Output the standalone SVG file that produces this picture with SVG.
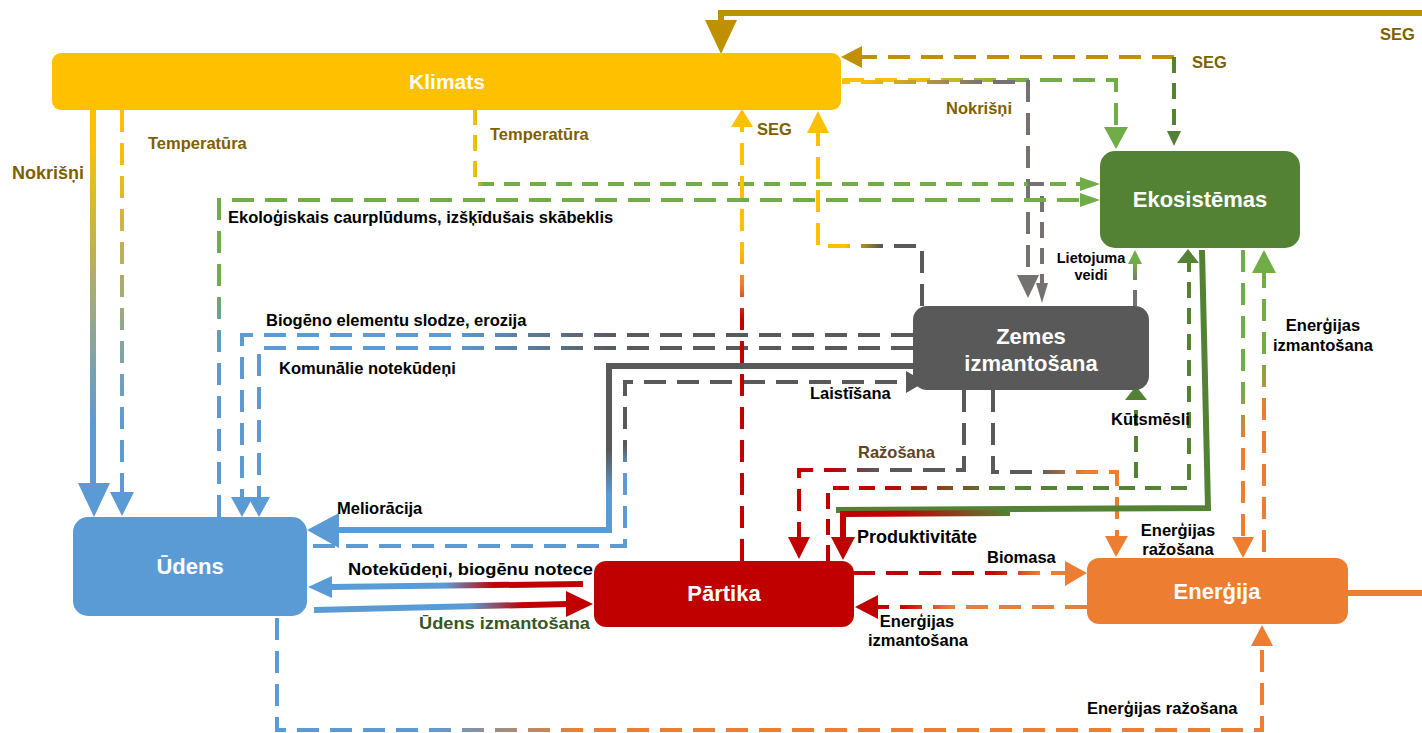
<svg xmlns="http://www.w3.org/2000/svg" width="1422" height="733" viewBox="0 0 1422 733">
<style>
.d{fill:none;stroke-width:4;stroke-dasharray:22 11}
.ds{fill:none;stroke-width:4;stroke-dasharray:16 10}
.s{fill:none;stroke-width:6}
.lab{font-family:"Liberation Sans",Arial,sans-serif;font-weight:bold;font-size:16.5px;fill:#000}
.ly{fill:#7F6000}
.mid{text-anchor:middle}
.nt{font-family:"Liberation Sans",Arial,sans-serif;font-weight:bold;font-size:22px;fill:#fff;text-anchor:middle}
</style>
<defs>
<linearGradient id="g1" gradientUnits="userSpaceOnUse" x1="0" y1="140" x2="0" y2="420"><stop offset="0" stop-color="#FFC000"/><stop offset="1" stop-color="#5B9BD5"/></linearGradient>
<linearGradient id="g3" gradientUnits="userSpaceOnUse" x1="474" y1="0" x2="484" y2="0"><stop offset="0" stop-color="#FFC000"/><stop offset="1" stop-color="#70AD47"/></linearGradient>
<linearGradient id="g4" gradientUnits="userSpaceOnUse" x1="0" y1="350" x2="0" y2="280"><stop offset="0" stop-color="#5B9BD5"/><stop offset="1" stop-color="#70AD47"/></linearGradient>
<linearGradient id="g5" gradientUnits="userSpaceOnUse" x1="450" y1="0" x2="620" y2="0"><stop offset="0" stop-color="#5B9BD5"/><stop offset="1" stop-color="#595959"/></linearGradient>
<linearGradient id="g6" gradientUnits="userSpaceOnUse" x1="0" y1="450" x2="0" y2="495"><stop offset="0" stop-color="#595959"/><stop offset="1" stop-color="#5B9BD5"/></linearGradient>
<linearGradient id="g7" gradientUnits="userSpaceOnUse" x1="0" y1="445" x2="0" y2="468"><stop offset="0" stop-color="#595959"/><stop offset="1" stop-color="#5B9BD5"/></linearGradient>
<linearGradient id="g8" gradientUnits="userSpaceOnUse" x1="445" y1="0" x2="495" y2="0"><stop offset="0" stop-color="#5B9BD5"/><stop offset="1" stop-color="#C00000"/></linearGradient>
<linearGradient id="g9" gradientUnits="userSpaceOnUse" x1="470" y1="0" x2="522" y2="0"><stop offset="0" stop-color="#5B9BD5"/><stop offset="1" stop-color="#C00000"/></linearGradient>
<linearGradient id="g10" gradientUnits="userSpaceOnUse" x1="0" y1="320" x2="0" y2="250"><stop offset="0" stop-color="#C00000"/><stop offset="0.5" stop-color="#ED7D31"/><stop offset="1" stop-color="#FFC000"/></linearGradient>
<linearGradient id="g11" gradientUnits="userSpaceOnUse" x1="880" y1="0" x2="845" y2="0"><stop offset="0" stop-color="#595959"/><stop offset="1" stop-color="#FFC000"/></linearGradient>
<linearGradient id="g12" gradientUnits="userSpaceOnUse" x1="900" y1="0" x2="1030" y2="0"><stop offset="0" stop-color="#FFC000"/><stop offset="1" stop-color="#70AD47"/></linearGradient>
<linearGradient id="g13" gradientUnits="userSpaceOnUse" x1="860" y1="0" x2="985" y2="0"><stop offset="0" stop-color="#FFC000"/><stop offset="1" stop-color="#767171"/></linearGradient>
<linearGradient id="g14" gradientUnits="userSpaceOnUse" x1="0" y1="285" x2="0" y2="265"><stop offset="0" stop-color="#767171"/><stop offset="1" stop-color="#70AD47"/></linearGradient>
<linearGradient id="g15" gradientUnits="userSpaceOnUse" x1="830" y1="0" x2="875" y2="0"><stop offset="0" stop-color="#C00000"/><stop offset="1" stop-color="#595959"/></linearGradient>
<linearGradient id="g16" gradientUnits="userSpaceOnUse" x1="1040" y1="0" x2="1085" y2="0"><stop offset="0" stop-color="#595959"/><stop offset="1" stop-color="#ED7D31"/></linearGradient>
<linearGradient id="g17" gradientUnits="userSpaceOnUse" x1="880" y1="0" x2="1000" y2="0"><stop offset="0" stop-color="#C00000"/><stop offset="1" stop-color="#548235"/></linearGradient>
<linearGradient id="g18" gradientUnits="userSpaceOnUse" x1="900" y1="0" x2="1010" y2="0"><stop offset="0" stop-color="#C00000"/><stop offset="1" stop-color="#548235"/></linearGradient>
<linearGradient id="g19" gradientUnits="userSpaceOnUse" x1="0" y1="390" x2="0" y2="440"><stop offset="0" stop-color="#70AD47"/><stop offset="1" stop-color="#ED7D31"/></linearGradient>
<linearGradient id="g20" gradientUnits="userSpaceOnUse" x1="0" y1="410" x2="0" y2="360"><stop offset="0" stop-color="#ED7D31"/><stop offset="1" stop-color="#70AD47"/></linearGradient>
<linearGradient id="g21" gradientUnits="userSpaceOnUse" x1="990" y1="0" x2="1040" y2="0"><stop offset="0" stop-color="#C00000"/><stop offset="1" stop-color="#ED7D31"/></linearGradient>
<linearGradient id="g22" gradientUnits="userSpaceOnUse" x1="900" y1="0" x2="950" y2="0"><stop offset="0" stop-color="#C00000"/><stop offset="1" stop-color="#ED7D31"/></linearGradient>
<linearGradient id="g23" gradientUnits="userSpaceOnUse" x1="430" y1="0" x2="580" y2="0"><stop offset="0" stop-color="#5B9BD5"/><stop offset="1" stop-color="#ED7D31"/></linearGradient>
</defs>
<rect width="1422" height="733" fill="#fff"/>
<g id="connectors">
<path class="s" stroke="#BF9000" d="M1422,13 H721 V24"/><polygon fill="#BF9000" points="705,20 737,20 721,54"/>
<path class="d" stroke="#BF9000" d="M1174,57 H862"/><polygon fill="#BF9000" points="862,46 862,68 841,57"/>
<path class="ds" stroke="#548235" stroke-width="3" d="M1174,57 V131"/><polygon fill="#548235" points="1167,131 1181,131 1174,146"/>
<path class="d" stroke="url(#g12)" d="M842,80 H1116 V127"/><polygon fill="#70AD47" points="1104,127 1128,127 1116,149"/>
<path class="d" stroke="url(#g13)" stroke-dashoffset="14" d="M842,82 H1028 V276"/><polygon fill="#767171" points="1017,275 1039,275 1028,298"/>
<path class="ds" stroke="url(#g3)" d="M475,109 V184 H1080"/><polygon fill="#70AD47" points="1080,177 1080,191 1100,184"/>
<path class="ds" stroke="#767171" d="M1028,184 H1042 V284"/><polygon fill="#767171" points="1036,283 1048,283 1042,303"/>
<path class="d" stroke="url(#g4)" d="M219,517 V200 H1080"/><polygon fill="#70AD47" points="1080,193 1080,207 1100,200"/>
<path class="d" stroke="url(#g5)" d="M913,335 H242 V497"/><polygon fill="#5B9BD5" points="231,497 253,497 242,517"/>
<path class="d" stroke="url(#g5)" d="M913,348 H259 V497"/><polygon fill="#5B9BD5" points="248,497 270,497 259,517"/>
<path class="s" stroke="url(#g6)" d="M913,366 H609 V530 H338"/><polygon fill="#5B9BD5" points="307,530 339,513 339,548"/>
<path class="d" stroke="url(#g7)" d="M313,546 H625 V382 H906"/><polygon fill="#595959" points="906,371 906,393 925,382"/>
<path class="s" stroke-width="5" stroke="url(#g8)" d="M583,584 L330,587"/><polygon fill="#5B9BD5" points="308,587 332,576 332,598"/>
<path class="s" stroke="url(#g9)" d="M314,610 L568,604"/><polygon fill="#C00000" points="593,604 566,591 566,617"/>
<path class="d" stroke="url(#g10)" d="M742,561 V127"/><polygon fill="#FFC000" points="731,127 753,127 742,109"/>
<path class="d" stroke="url(#g11)" d="M922,306 V246 H818 V133"/><polygon fill="#FFC000" points="807,133 829,133 818,111"/>
<path class="ds" stroke="url(#g14)" d="M1135,306 V263"/><polygon fill="#70AD47" points="1128,264 1142,264 1135,250"/>
<path class="d" stroke="url(#g15)" d="M964,390 V470 H799 V537"/><polygon fill="#C00000" points="788,537 810,537 799,559"/>
<path class="d" stroke="url(#g16)" d="M993,390 V472 H1117 V536"/><polygon fill="#ED7D31" points="1105,536 1128,536 1116,557"/>
<path class="ds" stroke="url(#g17)" d="M828,561 V488 H1189 V263"/><polygon fill="#548235" points="1177,263 1199,263 1188,249"/>
<path class="ds" stroke="#548235" d="M1136,478 V400"/><polygon fill="#548235" points="1125,400 1147,400 1136,386"/>
<path class="s" stroke-width="5" stroke="#548235" d="M1202,250 L1208,508 L836,510"/>
<path class="s" stroke-width="5" stroke="url(#g18)" d="M1010,513 L843,514 V538"/><polygon fill="#C00000" points="831,537 855,537 843,560"/>
<path class="d" stroke="url(#g19)" d="M1243,250 V537"/><polygon fill="#ED7D31" points="1232,537 1254,537 1243,558"/>
<path class="d" stroke="url(#g20)" d="M1264,552 V272"/><polygon fill="#70AD47" points="1252,273 1276,273 1264,250"/>
<path class="d" stroke="url(#g21)" d="M853,573 H1066"/><polygon fill="#ED7D31" points="1065,561 1065,586 1087,573"/>
<path class="d" stroke="url(#g22)" d="M1087,607 H877"/><polygon fill="#C00000" points="878,595 878,619 855,607"/>
<path class="d" stroke="url(#g23)" d="M277,618 V730 H1262 V646"/><polygon fill="#ED7D31" points="1251,646 1273,646 1262,625"/>
<path class="s" stroke="#ED7D31" stroke-width="5" d="M1347,593 H1422"/>
<path class="s" stroke="url(#g1)" d="M93,110 V485"/><polygon fill="#5B9BD5" points="78,483 110,483 94,517"/>
<path class="d" stroke="url(#g1)" d="M122,110 V493"/><polygon fill="#5B9BD5" points="110,492 134,492 122,516"/>
</g>
<g id="labels">
<text class="lab ly" x="1380" y="40" font-size="18">SEG</text>
<text class="lab ly" x="1192" y="68" font-size="16">SEG</text>
<text class="lab ly" x="757" y="135" font-size="16">SEG</text>
<text class="lab ly" x="946" y="114" font-size="16">Nokrišņi</text>
<text class="lab ly" x="12" y="179" style="font-size:18px">Nokrišņi</text>
<text class="lab ly" x="148" y="149">Temperatūra</text>
<text class="lab ly" x="490" y="140">Temperatūra</text>
<text class="lab" x="228" y="223">Ekoloģiskais caurplūdums, izšķīdušais skābeklis</text>
<text class="lab" x="266" y="326">Biogēno elementu slodze, erozija</text>
<text class="lab" x="279" y="374">Komunālie notekūdeņi</text>
<text class="lab" x="337" y="514">Meliorācija</text>
<text class="lab" x="810" y="399">Laistīšana</text>
<text class="lab" x="858" y="458" style="fill:#5E4523">Ražošana</text>
<text class="lab" x="857" y="543" style="font-size:18px">Produktivitāte</text>
<text class="lab" x="1111" y="425">Kūtsmēsli</text>
<text class="lab mid" x="1091" y="263" style="font-size:14.5px">Lietojuma</text>
<text class="lab mid" x="1091" y="280" style="font-size:14.5px">veidi</text>
<text class="lab mid" x="1323" y="331">Enerģijas</text>
<text class="lab mid" x="1323" y="351">izmantošana</text>
<text class="lab mid" x="1178" y="536">Enerģijas</text>
<text class="lab mid" x="1178" y="555">ražošana</text>
<text class="lab" x="987" y="563">Biomasa</text>
<text class="lab mid" x="917" y="627">Enerģijas</text>
<text class="lab mid" x="918" y="646">izmantošana</text>
<text class="lab" x="1087" y="714">Enerģijas ražošana</text>
<text class="lab" x="348" y="575" style="font-size:17px" textLength="245" lengthAdjust="spacingAndGlyphs">Notekūdeņi, biogēnu notece</text>
<text class="lab" x="419" y="629" style="font-size:17px;fill:#375623" textLength="171" lengthAdjust="spacingAndGlyphs">Ūdens izmantošana</text>
</g>
<g id="node-klimats"><rect x="52" y="53" width="789" height="57" rx="9" fill="#FFC000"/><text class="nt" x="447" y="89" style="font-size:21px">Klimats</text></g>
<g id="node-ekosistemas"><rect x="1100" y="151" width="200" height="97" rx="15" fill="#548235"/><text class="nt" x="1200" y="207">Ekosistēmas</text></g>
<g id="node-zemes"><rect x="913" y="306" width="236" height="84" rx="14" fill="#595959"/><text class="nt" x="1031" y="344">Zemes</text><text class="nt" x="1031" y="371">izmantošana</text></g>
<g id="node-udens"><rect x="73" y="517" width="234" height="99" rx="15" fill="#5B9BD5"/><text class="nt" x="190" y="574">Ūdens</text></g>
<g id="node-partika"><rect x="594" y="561" width="260" height="66" rx="12" fill="#C00000"/><text class="nt" x="724" y="601">Pārtika</text></g>
<g id="node-energija"><rect x="1087" y="558" width="261" height="66" rx="12" fill="#ED7D31"/><text class="nt" x="1217" y="599">Enerģija</text></g>
</svg>
